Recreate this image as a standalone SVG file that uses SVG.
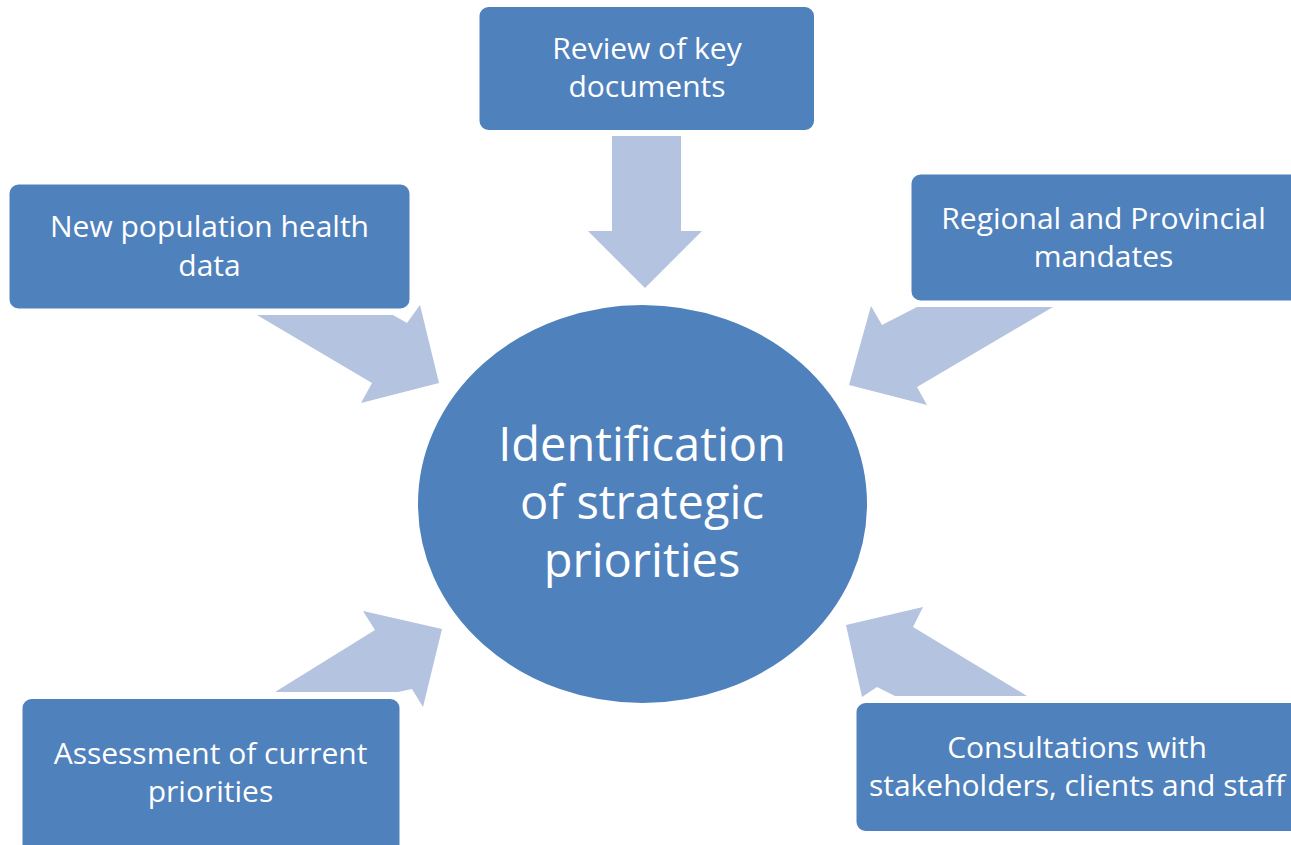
<svg xmlns="http://www.w3.org/2000/svg" width="1291" height="845" viewBox="0 0 1291 845">
<style>
.box{fill:#4F81BD;stroke:#FFFFFF;stroke-width:2}
.arrow{fill:#B3C3E0}
.t{font-family:"Open Sans","Noto Sans","Liberation Sans",sans-serif;fill:#FFFFFF;text-anchor:middle}
.bt{font-size:30px}
.ct{font-size:47px}
</style>
<rect width="1291" height="845" fill="#FFFFFF"/>
<g id="connectors">
<polygon class="arrow" points="612,136 681,136 681,231 702,231 645,288 588,231 612,231"/>
<polygon class="arrow" points="257,315 393,315 407,323 420,305 439,383 361,403 372,383"/>
<polygon class="arrow" points="1053,307 917,307 882,325 871,306 849,385 927,405 917,387"/>
<polygon class="arrow" points="275,692 398,692 412,689 423,707 442,629 363,611 375,630"/>
<polygon class="arrow" points="846,625 923,607 913,627 1027,696 895,696 877,687 862,697"/>
</g>
<g id="center">
<ellipse cx="642.5" cy="504" rx="225.5" ry="200" fill="#4F81BD" stroke="#FFFFFF" stroke-width="2"/>
<text class="t ct" x="642" y="461">Identification</text>
<text class="t ct" x="642" y="519">of strategic</text>
<text class="t ct" x="642" y="577">priorities</text>
</g>
<g id="review">
<rect class="box" x="478.5" y="6" width="336.5" height="125" rx="10"/>
<text class="t bt" x="647" y="59">Review of key</text>
<text class="t bt" x="647" y="97">documents</text>
</g>
<g id="population">
<rect class="box" x="8.5" y="183.5" width="402" height="126" rx="10"/>
<text class="t bt" x="209.5" y="237">New population health</text>
<text class="t bt" x="209.5" y="276">data</text>
</g>
<g id="mandates">
<rect class="box" x="910.5" y="173.5" width="390" height="128" rx="10"/>
<text class="t bt" x="1103.5" y="229">Regional and Provincial</text>
<text class="t bt" x="1103.5" y="267">mandates</text>
</g>
<g id="assessment">
<rect class="box" x="21.5" y="698" width="379" height="160" rx="10"/>
<text class="t bt" x="210.5" y="764">Assessment of current</text>
<text class="t bt" x="210.5" y="802">priorities</text>
</g>
<g id="consultations">
<rect class="box" x="855.5" y="702" width="445" height="130" rx="10"/>
<text class="t bt" x="1077" y="758">Consultations with</text>
<text class="t bt" x="1077" y="796">stakeholders, clients and staff</text>
</g>
</svg>
